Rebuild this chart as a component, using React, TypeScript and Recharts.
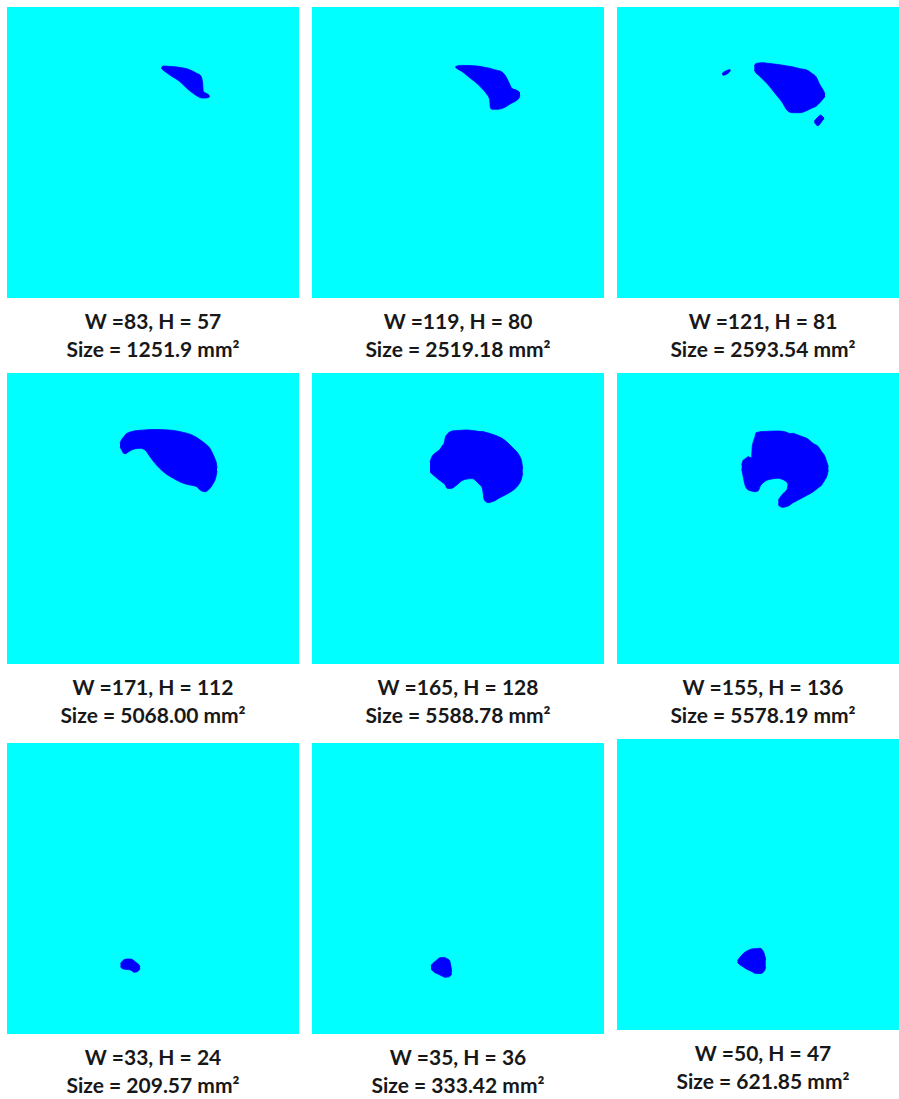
import React from 'react';
import { ComposedChart, XAxis, YAxis, Area, ReferenceArea } from 'recharts';

// Frame of each segmentation map, in pixels
const FRAME_W = 292;
const FRAME_H = 291;

type Column = [number, number, number]; // [x, top, bottom]

// Segmented lesion masks, one column per x: [x, top edge, bottom edge]
const lesion1: Column[] = [
  [154.5, 60.5, 61.5], [156, 59, 63], [160, 59.2, 66], [165, 59.6, 69.5], [170, 60, 72.5],
  [175, 60.8, 76.5], [180, 61.8, 81.5], [185, 63.8, 85.5], [190, 66.5, 89], [193, 68, 90.5],
  [195, 72, 91], [195.6, 76, 91], [196.3, 84, 91], [198, 85.8, 91], [200, 86.8, 90.8],
  [202, 88.3, 90.2], [202.6, 89.3, 89.7],
];

const lesion2: Column[] = [
  [143.5, 59.5, 60.5], [146, 58.8, 62.2], [150, 58.4, 64.5], [155, 58.5, 68.5], [160, 58.7, 72.5],
  [165, 59, 76.5], [170, 59.8, 81.5], [175, 60.8, 87.5], [177.5, 61.2, 92], [178.5, 61.4, 101],
  [180, 62, 102.3], [185, 63.3, 102.3], [190, 65, 101.5], [195, 71.5, 99], [198, 78, 97],
  [200, 81.5, 96], [204, 83, 93.8], [207, 84.8, 91], [208, 86, 88.5],
];

const lesion3Main: Column[] = [
  [137.3, 59, 63], [139, 56.5, 66], [142, 56, 68.5], [146, 55.7, 72.5], [150, 56.2, 76.5],
  [155, 56.8, 82.5], [160, 57.4, 88.8], [165, 58.1, 95], [170, 59, 103.2], [175, 59.7, 105.7],
  [183, 61.7, 105.7], [190, 63.1, 103.5], [195, 66.5, 101], [199, 69.7, 99.3], [203, 78, 95.5],
  [206, 82.8, 92], [208, 87, 89.5],
];

const lesion3Left: Column[] = [
  [105.2, 66.3, 67.5], [106.5, 65.2, 68.2], [109, 63.9, 67.4], [111, 63, 66.3], [112.8, 62.6, 64.6],
  [113.5, 63.1, 63.9],
];

const lesion3Low: Column[] = [
  [197.3, 114.2, 115.2], [199, 112, 117.5], [201, 110, 118.8], [203.7, 108, 116],
  [205.5, 109.5, 113.5], [207, 111, 111.6],
];

const lesion4: Column[] = [
  [113, 70, 74], [114.7, 66.5, 77], [117, 63.5, 80.6], [119, 61, 80.5], [121.3, 59.7, 79],
  [125, 58.5, 76.8], [130, 57.6, 75.5], [133, 57.3, 75.3], [138, 56.9, 77], [143, 56.6, 83.7],
  [148, 56.5, 90.3], [156.3, 56.7, 98.7], [166.3, 57.4, 105.3], [176.3, 59.4, 110.3], [183, 61.2, 112],
  [189.7, 64.5, 113.7], [193, 66.8, 117], [198, 70.5, 118.7], [203, 75.5, 115.3], [206.3, 82, 110.3],
  [208, 86, 107], [209.5, 91, 101], [210, 95, 98],
];

const lesion5: Column[] = [
  [118, 89, 99], [120, 83.5, 101], [123, 80.3, 103.5], [126, 78, 106], [128, 76.3, 107.5],
  [130, 73, 109], [132, 70.3, 110.5], [133.5, 64, 112.5], [135, 61.5, 115.3], [137, 59.5, 115.5],
  [140, 58, 115.2], [145, 57.5, 111.8], [150, 57.2, 107.6], [155, 57, 106], [160, 57.5, 105.6],
  [163, 57.8, 107], [166, 58.3, 110], [168, 58.5, 112], [170, 58.6, 114.5], [171, 58.7, 119],
  [172, 58.8, 126], [174, 59.5, 128.8], [176.3, 60, 129.7], [180, 61.2, 128.7], [183, 62.2, 127.7],
  [186, 63.4, 125.7], [190, 65.3, 123.6], [196.3, 70.3, 120.3], [200, 74, 118], [204.7, 78.7, 114],
  [207, 82, 111], [209.7, 88.7, 105], [210.7, 96, 100],
];

const lesion6Body: Column[] = [
  [124.7, 92, 96], [126.3, 87, 104], [128, 86, 112], [131.3, 83.7, 117], [134.5, 85, 118],
  [135.2, 74, 118.2], [136.3, 68.7, 118.5], [138, 63.7, 118.7], [139, 59.7, 118.5], [141.3, 59.2, 117.7],
  [143, 58.7, 113.7], [146.3, 58.5, 109.7], [153, 58.2, 106.3], [161.3, 58, 105.3], [165, 58.3, 106.2],
  [168, 58.8, 107.7], [170, 59.5, 109.5], [171.3, 60, 113], [173, 60.6, 131.5], [176.3, 60.3, 129.6],
  [178, 60.9, 128.7], [182, 62.4, 126.6], [186.3, 64, 124.3], [189.7, 65.3, 122.4], [196.3, 70.5, 118.7],
  [201.3, 73.7, 114.7], [204.7, 78.7, 112], [208, 83.7, 106.5], [209.7, 88.7, 103.7], [211.3, 93.7, 97],
];

const lesion6Hook: Column[] = [
  [161.3, 127, 132], [163, 124.5, 133.5], [165.7, 121, 134.3], [168, 118.7, 134], [170, 116.5, 133.3],
  [171.3, 112, 133], [173, 111, 132],
];

const lesion7: Column[] = [
  [113.5, 220.5, 223.5], [115, 218.5, 225.5], [118, 216.3, 226.2], [121, 216, 226.6], [124, 216.1, 227.2],
  [127, 217.7, 229.2], [129, 219.4, 229], [131.3, 221, 228], [133, 223.5, 225.5],
];

const lesion8: Column[] = [
  [119, 222.5, 226.3], [121, 220.3, 228], [123, 218.6, 229.7], [125, 216.8, 230.5], [128, 214.7, 232],
  [131, 214.6, 233.5], [133, 214.7, 234.3], [135, 215.7, 234], [137.3, 217, 233.8], [138.7, 222, 232.5],
  [139.7, 228.5, 231],
];

const lesion9: Column[] = [
  [120.5, 221.5, 223.5], [122, 219.5, 225], [124, 217, 226.5], [126.3, 214.5, 228], [130, 212, 230.3],
  [134.7, 210, 232.5], [138, 209.7, 234.3], [143, 209.3, 234.5], [145, 210.4, 234.2], [146.3, 212.5, 233],
  [147.5, 215.5, 231.8], [148.7, 221, 228],
];

// Measured extent and area of each lesion
const widthsPx = [83, 119, 121, 171, 165, 155, 33, 35, 50];
const heightsPx = [57, 80, 81, 112, 128, 136, 24, 36, 47];
const sizesMm2 = ['1251.9', '2519.18', '2593.54', '5068.00', '5588.78', '5578.19', '209.57', '333.42', '621.85'];

const panelMasks: Column[][][] = [
  [lesion1],
  [lesion2],
  [lesion3Main, lesion3Left, lesion3Low],
  [lesion4],
  [lesion5],
  [lesion6Body, lesion6Hook],
  [lesion7],
  [lesion8],
  [lesion9],
];

const BG = '#00FFFF';
const MASK = '#0000FF';
const FONT = 'Lato, "Open Sans", sans-serif';

const colLeft = [7, 312, 617];
const rowTop = [7, 373, 743];

function toRange(cols: Column[]) {
  return cols.map(([x, top, bottom]) => ({ x, r: [top, bottom] }));
}

function Panel({ idx }: { idx: number }) {
  const row = Math.floor(idx / 3);
  const col = idx % 3;
  const left = colLeft[col];
  const top = rowTop[row] - (idx === 8 ? 4 : 0);
  return (
    <div style={{ position: 'absolute', left, top, width: FRAME_W, height: FRAME_H + 70 }}>
      <ComposedChart width={FRAME_W} height={FRAME_H} margin={{ top: 0, right: 0, bottom: 0, left: 0 }}>
        <XAxis type="number" dataKey="x" domain={[0, FRAME_W]} hide allowDataOverflow />
        <YAxis type="number" domain={[0, FRAME_H]} reversed hide allowDataOverflow />
        <ReferenceArea x1={0} x2={FRAME_W} y1={0} y2={FRAME_H} fill={BG} fillOpacity={1} stroke="none" />
        {panelMasks[idx].map((mask, k) => (
          <Area
            key={k}
            data={toRange(mask)}
            dataKey="r"
            type="monotone"
            fill={MASK}
            fillOpacity={1}
            stroke={MASK}
            strokeWidth={0.8}
            dot={false}
            activeDot={false}
            isAnimationActive={false}
          />
        ))}
      </ComposedChart>
      <svg width={FRAME_W} height={70} style={{ display: 'block' }}>
        <text x={FRAME_W / 2} y={31} textAnchor="middle" fontFamily={FONT} fontWeight={700} fontSize={21} fill="#181818">
          {`W =${widthsPx[idx]}, H = ${heightsPx[idx]}`}
        </text>
        <text x={FRAME_W / 2} y={58.5} textAnchor="middle" fontFamily={FONT} fontWeight={700} fontSize={21} fill="#181818">
          {`Size = ${sizesMm2[idx]} mm²`}
        </text>
      </svg>
    </div>
  );
}

export default function App() {
  return (
    <div style={{ position: 'absolute', left: 0, top: 0, width: 899, height: 1099, overflow: 'hidden', background: '#fff' }}>
      {panelMasks.map((_, i) => (
        <Panel key={i} idx={i} />
      ))}
    </div>
  );
}
